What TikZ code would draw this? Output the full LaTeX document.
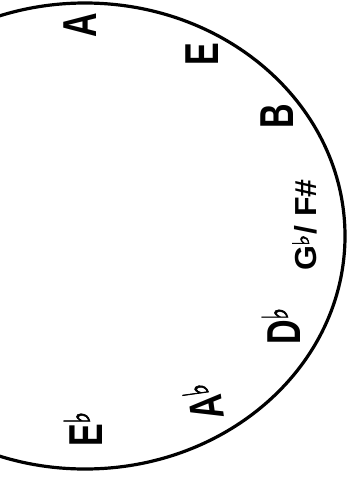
\documentclass[tikz,border=0pt]{standalone}
\usepackage{fontspec}
\setmainfont{Liberation Sans}
\newfontfamily\flatfont{DejaVu Sans Bold}[FakeBold=2]
\newcommand\flt{\raisebox{0.26em}{\scalebox{0.75}{\flatfont ♭}}}
\newcommand\stretchy[2]{\scalebox{1}[#1]{#2}}
\begin{document}
\begin{tikzpicture}[x=1pt,y=-1pt,
  ringline/.style={line width=3.2pt},
  bignote/.style={inner sep=0pt, font=\fontsize{34}{34}\selectfont\bfseries, rotate=90},
  smallnote/.style={inner sep=0pt, font=\fontsize{32}{32}\selectfont\bfseries, rotate=90}]
\useasboundingbox (0,0) rectangle (351,483);
\begin{scope}
  \clip (0,0) rectangle (351,483);
  \draw[ringline] (85,236) ellipse [x radius=260pt, y radius=233pt];
\end{scope}
\node[bignote] (a) at (80,25) {\stretchy{1.4}{A}};
\node[bignote] (e) at (202,54) {\stretchy{1.4}{E}};
\node[bignote] (b) at (277,116) {\stretchy{1.4}{B}};
\node[smallnote] (gf) at (305,225) {\stretchy{0.95}{G\flt/ F\#}};
\node[bignote] (db) at (281,326) {\stretchy{1.4}{D\flt}};
\node[bignote, rotate=8] (ab) at (203,402) {\stretchy{1.4}{A\kern1pt\flt}};
\node[bignote] (eb) at (83,429) {\stretchy{1.4}{E\flt}};
\end{tikzpicture}
\end{document}
